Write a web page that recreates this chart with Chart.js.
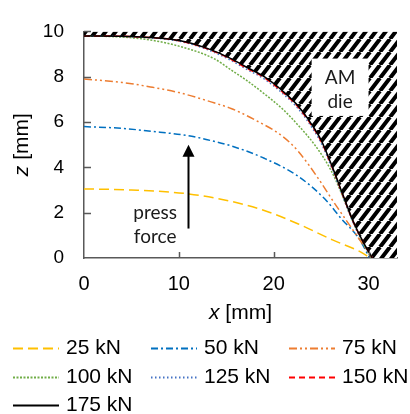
<!DOCTYPE html>
<html lang="en">
<head>
  <meta charset="UTF-8" />
  <title>Sheet profile vs press force</title>
  <script src="https://cdn.jsdelivr.net/npm/chart.js"></script>
  <style>
    body { margin: 0; background: #fff; }
    #wrap { width: 410px; height: 414px; }
  </style>
</head>
<body>
  <div id="wrap"><canvas id="profileChart" width="410" height="414"></canvas></div>

  <script>
    // data (x and z in mm)
    const forceLabels = ['25 kN', '50 kN', '75 kN', '100 kN', '125 kN', '150 kN', '175 kN'];

    const x25 = [0, 5, 11, 15.5, 19, 22.6, 26.2, 29, 30.2];
    const z25 = [3.05, 3.0, 2.83, 2.5, 2.1, 1.5, 0.8, 0.3, 0];

    const x50 = [0, 4, 8, 11, 13, 15.5, 19, 22.6, 25.4, 27.2, 29, 30.1];
    const z50 = [5.8, 5.72, 5.55, 5.4, 5.22, 4.95, 4.4, 3.6, 2.6, 1.7, 0.86, 0];

    const x75 = [0, 4, 7, 10, 13.7, 15.5, 18, 21, 22.6, 24.8, 26.2, 28, 29.4, 30.4];
    const z75 = [7.9, 7.75, 7.55, 7.3, 6.85, 6.6, 6.1, 5.35, 4.7, 3.45, 2.55, 1.45, 0.6, 0];

    const x100 = [0, 4, 7, 10, 13.7, 15.5, 17, 19, 21, 22.6, 24.4, 26, 27.1, 28.2, 29.3, 30.3];
    const z100 = [9.8, 9.75, 9.62, 9.35, 8.8, 8.3, 7.88, 7.25, 6.55, 5.85, 4.95, 3.9, 2.9, 1.75, 0.75, 0];

    const x125 = [0, 5, 10, 13, 15.5, 17, 19, 21, 22.6, 24, 25, 26.2, 27.2, 28.3, 29.4, 30.4];
    const z125 = [9.8, 9.76, 9.57, 9.2, 8.72, 8.36, 7.9, 7.24, 6.58, 5.78, 5.08, 3.9, 2.82, 1.64, 0.7, 0];

    const x150 = [0, 5, 10, 13, 15.5, 17, 19, 21, 22.6, 24, 25, 26.2, 27.2, 28.3, 29.4, 30.4];
    const z150 = [9.8, 9.77, 9.59, 9.23, 8.77, 8.41, 7.96, 7.3, 6.65, 5.85, 5.15, 3.96, 2.87, 1.68, 0.72, 0];

    const x175 = [0, 5, 10, 13, 15.5, 17, 19, 21, 22.6, 24, 25, 26.2, 27.2, 28.3, 29.4, 30.4];
    const z175 = [9.8, 9.77, 9.6, 9.25, 8.8, 8.45, 8.0, 7.35, 6.7, 5.9, 5.2, 4.0, 2.9, 1.7, 0.73, 0];

    // die outline = 175 kN contour, closed along the bottom to the right edge
    const xDie = x175.concat([33]);
    const zDie = z175.concat([0]);

    const xTicks = [0, 10, 20, 30];
    const zTicks = [0, 2, 4, 6, 8, 10];

    const seriesX = [x25, x50, x75, x100, x125, x150, x175];
    const seriesZ = [z25, z50, z75, z100, z125, z150, z175];

    // look of each series
    const lineColors = ['#FFC000', '#0070C0', '#ED7D31', '#70AD47', '#4472C4', '#FF0000', '#000000'];
    const lineDashes = [[10, 5], [7, 3, 2, 3], [8, 3, 2, 3, 2, 3], [2, 1.5], [1.5, 2.5], [6, 4], []];

    const axisFont = '"Liberation Sans", Arial, sans-serif';
    const noteFont = 'Lato, "Open Sans", sans-serif';
    const axisGrey = '#595959';

    function toPoints(xs, zs) {
      return xs.map((x, i) => ({ x: x, y: zs[i] }));
    }

    function makeHatch() {
      const w = 10, h = 13;
      const c = document.createElement('canvas');
      c.width = w; c.height = h;
      const g = c.getContext('2d');
      g.fillStyle = '#fff';
      g.fillRect(0, 0, w, h);
      g.strokeStyle = '#000';
      g.lineWidth = 4;
      g.beginPath();
      [-w, 0, w].forEach(off => {
        g.moveTo(off, h);
        g.lineTo(off + w, 0);
      });
      g.stroke();
      return g.createPattern(c, 'repeat');
    }

    function mixedTitle(ctx, letter, cx, cy, rot) {
      const fi = 'italic 21px ' + axisFont;
      const fn = '21px ' + axisFont;
      ctx.save();
      ctx.translate(cx, cy);
      ctx.rotate(rot);
      ctx.font = fi;
      const w1 = ctx.measureText(letter).width;
      ctx.font = fn;
      const w2 = ctx.measureText(' [mm]').width;
      const x0 = -(w1 + w2) / 2;
      ctx.fillStyle = '#000';
      ctx.textBaseline = 'middle';
      ctx.textAlign = 'left';
      ctx.font = fi;
      ctx.fillText(letter, x0, 0);
      ctx.font = fn;
      ctx.fillText(' [mm]', x0 + w1, 0);
      ctx.restore();
    }

    const extras = {
      id: 'extras',
      afterDatasetsDraw(chart) {
        const { ctx, chartArea, scales: { x, y } } = chart;

        // inner tick marks
        ctx.save();
        ctx.strokeStyle = axisGrey;
        ctx.lineWidth = 1.5;
        ctx.beginPath();
        zTicks.slice(1).forEach(v => {
          const py = Math.round(y.getPixelForValue(v)) + 0.5;
          ctx.moveTo(chartArea.left, py);
          ctx.lineTo(chartArea.left + 7, py);
        });
        xTicks.slice(1).forEach(v => {
          const px = Math.round(x.getPixelForValue(v)) + 0.5;
          ctx.moveTo(px, chartArea.bottom);
          ctx.lineTo(px, chartArea.bottom - 6);
        });
        ctx.stroke();
        ctx.restore();

        // "AM die" label box
        ctx.save();
        const bx0 = x.getPixelForValue(24.0), bx1 = x.getPixelForValue(30.0);
        const by0 = y.getPixelForValue(8.8), by1 = y.getPixelForValue(6.27);
        ctx.fillStyle = '#fff';
        ctx.fillRect(bx0, by0, bx1 - bx0, by1 - by0);
        ctx.fillStyle = '#1a1a1a';
        ctx.font = '19px ' + noteFont;
        ctx.textAlign = 'center';
        ctx.textBaseline = 'middle';
        ctx.fillText('AM', x.getPixelForValue(27.0), y.getPixelForValue(7.95));
        ctx.fillText('die', x.getPixelForValue(27.0), y.getPixelForValue(6.9));

        // press force arrow and note
        const ax = Math.round(x.getPixelForValue(11)) + 0.5;
        const aBot = y.getPixelForValue(1.3), aTip = y.getPixelForValue(5.0);
        ctx.strokeStyle = '#000';
        ctx.fillStyle = '#000';
        ctx.lineWidth = 2;
        ctx.beginPath();
        ctx.moveTo(ax, aBot);
        ctx.lineTo(ax, aTip + 10);
        ctx.stroke();
        ctx.beginPath();
        ctx.moveTo(ax, aTip);
        ctx.lineTo(ax - 6, aTip + 12);
        ctx.lineTo(ax + 6, aTip + 12);
        ctx.closePath();
        ctx.fill();
        ctx.fillStyle = '#1a1a1a';
        ctx.fillText('press', x.getPixelForValue(7.5), y.getPixelForValue(2.0));
        ctx.fillText('force', x.getPixelForValue(7.5), y.getPixelForValue(0.95));
        ctx.restore();
      },
      afterDraw(chart) {
        const { ctx, chartArea } = chart;
        mixedTitle(ctx, 'x', (chartArea.left + chartArea.right) / 2, 313, 0);
        mixedTitle(ctx, 'z', 22, (chartArea.top + chartArea.bottom) / 2, -Math.PI / 2);

        // legend in three columns
        const cols = [13, 151, 289];
        const rows = [348, 377, 405];
        ctx.save();
        ctx.font = '21px ' + axisFont;
        ctx.textBaseline = 'middle';
        ctx.textAlign = 'left';
        forceLabels.forEach((label, i) => {
          const lx = cols[i % 3], ly = rows[Math.floor(i / 3)];
          ctx.strokeStyle = lineColors[i];
          ctx.lineWidth = 2;
          ctx.setLineDash(lineDashes[i]);
          ctx.beginPath();
          ctx.moveTo(lx, ly + 0.5);
          ctx.lineTo(lx + 46, ly + 0.5);
          ctx.stroke();
          ctx.setLineDash([]);
          ctx.fillStyle = '#000';
          ctx.fillText(label, lx + 53, ly);
        });
        ctx.restore();
      }
    };

    const datasets = forceLabels.map((label, i) => ({
      label: label,
      data: toPoints(seriesX[i], seriesZ[i]),
      borderColor: lineColors[i],
      borderDash: lineDashes[i],
      borderWidth: 1.5,
      pointRadius: 0,
      fill: false,
      cubicInterpolationMode: 'monotone',
      order: forceLabels.length - 1 - i
    }));

    datasets.push({
      label: 'die',
      data: toPoints(xDie, zDie),
      borderWidth: 0,
      borderColor: 'rgba(0,0,0,0)',
      backgroundColor: makeHatch(),
      pointRadius: 0,
      fill: 'end',
      cubicInterpolationMode: 'monotone',
      order: 20
    });

    new Chart(document.getElementById('profileChart'), {
      type: 'line',
      data: { datasets: datasets },
      options: {
        responsive: false,
        animation: false,
        layout: { padding: { top: 25, right: 13, left: 0, bottom: 0 } },
        plugins: {
          legend: { display: false },
          tooltip: { enabled: false }
        },
        scales: {
          x: {
            type: 'linear',
            min: 0,
            max: 33,
            afterBuildTicks: s => { s.ticks = xTicks.map(v => ({ value: v })); },
            afterFit: s => { s.height = 156; },
            grid: { display: true, drawOnChartArea: false, drawTicks: false },
            border: { display: true, color: axisGrey, width: 1.5 },
            ticks: { color: '#000', padding: 14, font: { family: axisFont, size: 20 } }
          },
          y: {
            min: 0,
            max: 10,
            afterBuildTicks: s => { s.ticks = zTicks.map(v => ({ value: v })); },
            afterFit: s => { s.width = 84; },
            grid: { display: true, drawOnChartArea: false, drawTicks: false },
            border: { display: true, color: axisGrey, width: 1.5 },
            ticks: { color: '#000', padding: 20, font: { family: axisFont, size: 19 } }
          }
        }
      },
      plugins: [extras]
    });
  </script>
</body>
</html>
